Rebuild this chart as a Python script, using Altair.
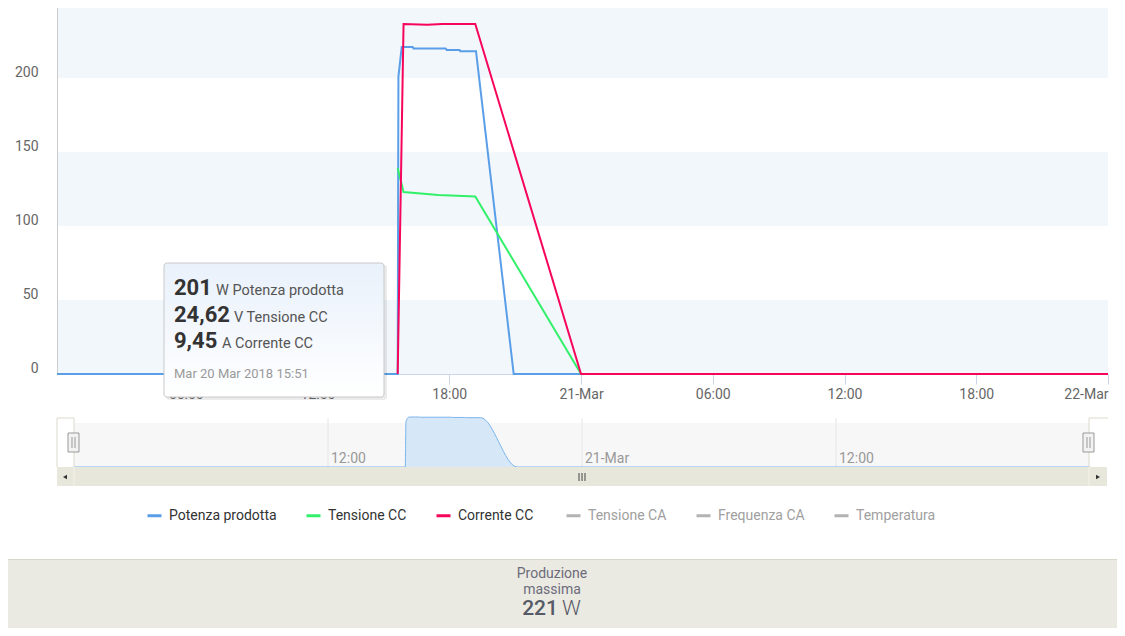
import altair as alt
import pandas as pd

# ------------------------------------------------------------------ data
series_names = ["Potenza prodotta", "Tensione CC", "Corrente CC"]
hidden_series = ["Tensione CA", "Frequenza CA", "Temperatura"]

potenza_t = ["2018-03-20T00:00", "2018-03-20T15:39", "2018-03-20T15:41", "2018-03-20T15:50",
             "2018-03-20T16:20", "2018-03-20T16:22", "2018-03-20T17:50", "2018-03-20T17:53",
             "2018-03-20T18:28", "2018-03-20T18:30", "2018-03-20T19:13", "2018-03-20T20:56",
             "2018-03-22T00:00"]
potenza_v = [0, 0, 201, 221, 221, 220, 220, 219, 219, 218, 218, 0, 0]

tensione_t = ["2018-03-20T15:39", "2018-03-20T15:55", "2018-03-20T17:30", "2018-03-20T19:11",
              "2018-03-21T00:00", "2018-03-22T00:00"]
tensione_v = [139, 123, 121, 120, 0, 0]

corrente_t = ["2018-03-20T15:39", "2018-03-20T15:55", "2018-03-20T17:00", "2018-03-20T17:40",
              "2018-03-20T19:11", "2018-03-21T00:00", "2018-03-22T00:00"]
corrente_v = [0, 236.5, 236, 236.5, 236.5, 0, 0]

band_lo = [0, 100, 200]
band_hi = [50, 150, 250]
y_ticks = [0, 50, 100, 150, 200]
x_tick_days = [20, 20, 20, 21, 21, 21, 21, 22]
x_tick_hours = [6, 12, 18, 0, 6, 12, 18, 0]

nav_tick_t = ["2018-03-20T12:00", "2018-03-21T00:00", "2018-03-21T12:00"]
nav_tick_labels = ["12:00", "21-Mar", "12:00"]

tooltip_values = ["201", "24,62", "9,45"]
tooltip_units = ["W Potenza prodotta", "V Tensione CC", "A Corrente CC"]
tooltip_date = "Mar 20 Mar 2018 15:51"

summary_lines = ["Produzione", "massima"]
summary_value = "221"
summary_unit = "W"

# ------------------------------------------------------------------ styles
series_colors = ["#5a9ee8", "#33f06a", "#f7055a"]
FONT = "Roboto"
W, H = 1051, 620
MAIN_BOTTOM = 366

one = pd.DataFrame({"k": [0]})

main_x = alt.Scale(domain=[alt.DateTime(year=2018, month=3, date=20, hours=0, minutes=8),
                           alt.DateTime(year=2018, month=3, date=22)],
                   range=[0, W], nice=False)
main_y = alt.Scale(domain=[0, 247.3], range=[MAIN_BOTTOM, 0], nice=False, zero=False)
nav_x = alt.Scale(domain=[alt.DateTime(year=2018, month=3, date=20),
                          alt.DateTime(year=2018, month=3, date=22)],
                  range=[17, 1033], nice=False)
nav_y = alt.Scale(domain=[0, 221], range=[459, 409], nice=False)

legend_common = dict(orient="none", legendY=499, direction="horizontal", title=None,
                     symbolType="stroke", symbolStrokeWidth=3, symbolSize=196, symbolOpacity=1,
                     labelFont=FONT, labelFontSize=14, labelOffset=6, columnPadding=23, padding=0)

color_enc = alt.Color(
    "s:N",
    scale=alt.Scale(domain=series_names, range=series_colors),
    legend=alt.Legend(legendX=89, labelColor="#333333", **legend_common),
)

def sdf(name, ts, vs):
    return pd.DataFrame({"t": ts, "v": vs, "s": name})

pot_df = sdf(series_names[0], potenza_t, potenza_v)
ten_df = sdf(series_names[1], tensione_t, tensione_v)
cor_df = sdf(series_names[2], corrente_t, corrente_v)

layers = []

# plot bands
bands = pd.DataFrame({"lo": band_lo, "hi": band_hi})
layers.append(alt.Chart(bands).mark_rect(color="#f2f7fb", clip=True).encode(
    x=alt.value(0), x2=alt.value(W),
    y=alt.Y("lo:Q", scale=main_y, axis=None), y2="hi:Q"))
# left border of the plot
layers.append(alt.Chart(one).mark_rule(color="#cccccc", strokeWidth=1).encode(
    x=alt.value(0.5), y=alt.value(0), y2=alt.value(MAIN_BOTTOM)))

# main lines
x_tick_values = [alt.DateTime(year=2018, month=3, date=d, hours=h)
                 for d, h in zip(x_tick_days, x_tick_hours)]
x_axis = alt.Axis(title=None, orient="bottom", offset=-(H - MAIN_BOTTOM),
                  values=x_tick_values,
                  labelExpr="hours(datum.value) == 0 ? timeFormat(datum.value, '%d-%b') : timeFormat(datum.value, '%H:%M')",
                  grid=False, tickSize=10, tickColor="#ccd6eb", domainColor="#ccd6eb",
                  labelColor="#666666", labelFontSize=14, labelFont=FONT, labelPadding=3,
                  labelFlush=True)
y_axis = alt.Axis(title=None, values=y_ticks, grid=False, ticks=False, domain=False,
                  labelColor="#666666", labelFontSize=14,
                  labelFont=FONT, labelPadding=19, labelOffset=-6)

layers.append(alt.Chart(pot_df).mark_line(strokeWidth=2, clip=True).encode(
    x=alt.X("t:T", scale=main_x, axis=x_axis),
    y=alt.Y("v:Q", scale=main_y, axis=y_axis),
    color=color_enc))
for d in (ten_df, cor_df):
    layers.append(alt.Chart(d).mark_line(strokeWidth=2, clip=True).encode(
        x=alt.X("t:T", scale=main_x, axis=None),
        y=alt.Y("v:Q", scale=main_y, axis=None),
        color=color_enc))

# hidden series (legend only, nothing drawn)
hid_df = pd.DataFrame({"t": ["2018-03-20T00:00"] * 3, "v": [None] * 3, "s": hidden_series})
layers.append(alt.Chart(hid_df).mark_line(strokeWidth=2, color="#b3b3b3").encode(
    x=alt.X("t:T", scale=main_x, axis=None),
    y=alt.Y("v:Q", scale=main_y, axis=None),
    strokeDash=alt.StrokeDash("s:N", scale=alt.Scale(domain=hidden_series, range=[[1, 0]] * 3),
                              legend=alt.Legend(legendX=508, labelColor="#a0a0a0",
                                                symbolStrokeColor="#b3b3b3", symbolDash=[1, 0],
                                                **legend_common))))

# ---------------- navigator
layers.append(alt.Chart(one).mark_rect(color="#f7f7f7").encode(
    x=alt.value(17), x2=alt.value(1032), y=alt.value(415), y2=alt.value(459)))
navt = pd.DataFrame({"t": nav_tick_t, "label": nav_tick_labels})
layers.append(alt.Chart(navt).mark_rule(color="#e6e6e6").encode(
    x=alt.X("t:T", scale=nav_x, axis=None), y=alt.value(410), y2=alt.value(459)))
layers.append(alt.Chart(pot_df).mark_area(interpolate="monotone", color="#d6e8f8", opacity=1).encode(
    x=alt.X("t:T", scale=nav_x, axis=None), y=alt.Y("v:Q", scale=nav_y, axis=None)))
layers.append(alt.Chart(pot_df).mark_line(interpolate="monotone", color="#7cb5ec", strokeWidth=1).encode(
    x=alt.X("t:T", scale=nav_x, axis=None), y=alt.Y("v:Q", scale=nav_y, axis=None)))
layers.append(alt.Chart(navt).mark_text(align="left", baseline="alphabetic", dx=3, fontSize=14,
                                        font=FONT, color="#999999").encode(
    x=alt.X("t:T", scale=nav_x, axis=None), y=alt.value(455), text="label:N"))

# navigator outline
outline = "#dcdbcb"
for (x1, x2, y1, y2) in [(0, 0, 410, 459), (0, 17, 410, 410), (17, 17, 410, 459),
                         (1032, 1032, 410, 459), (1032, 1051, 410, 410)]:
    layers.append(alt.Chart(one).mark_rule(color=outline, strokeWidth=1).encode(
        x=alt.value(x1), x2=alt.value(x2), y=alt.value(y1), y2=alt.value(y2)))

# scrollbar
layers.append(alt.Chart(one).mark_rect(color="#e8e7dc").encode(
    x=alt.value(0), x2=alt.value(1050), y=alt.value(459), y2=alt.value(478)))
for xv in (17, 1032):
    layers.append(alt.Chart(one).mark_rule(color="#f3f2ea", strokeWidth=1).encode(
        x=alt.value(xv), y=alt.value(459), y2=alt.value(478)))
layers.append(alt.Chart(one).mark_point(shape="triangle-left", filled=True, size=22,
                                         color="#333333", opacity=1).encode(
    x=alt.value(8), y=alt.value(469)))
layers.append(alt.Chart(one).mark_point(shape="triangle-right", filled=True, size=22,
                                         color="#333333", opacity=1).encode(
    x=alt.value(1041), y=alt.value(469)))
for xv in (522, 525, 528):
    layers.append(alt.Chart(one).mark_rule(color="#444444", strokeWidth=1).encode(
        x=alt.value(xv), y=alt.value(465), y2=alt.value(473)))

# handles
for hx in (11, 1026):
    layers.append(alt.Chart(one).mark_rect(fill="#f2f2f2", stroke="#999999", strokeWidth=1).encode(
        x=alt.value(hx), x2=alt.value(hx + 11), y=alt.value(425), y2=alt.value(444)))
    for dx in (4, 7):
        layers.append(alt.Chart(one).mark_rule(color="#999999", strokeWidth=1).encode(
            x=alt.value(hx + dx), y=alt.value(429), y2=alt.value(440)))

# ---------------- bottom summary panel
layers.append(alt.Chart(one).mark_rect(color="#ebeae2").encode(
    x=alt.value(-49), x2=alt.value(1060), y=alt.value(551), y2=alt.value(620)))
layers.append(alt.Chart(one).mark_rule(color="#d8d7ca").encode(
    x=alt.value(-49), x2=alt.value(1060), y=alt.value(551.5)))
for i, txt in enumerate(summary_lines):
    layers.append(alt.Chart(one).mark_text(text=txt, align="center", baseline="alphabetic",
                                           fontSize=14, font=FONT, color="#6b6b7a").encode(
        x=alt.value(495), y=alt.value(570 + 16 * i)))
layers.append(alt.Chart(one).mark_text(text=summary_value, align="right", baseline="alphabetic",
                                       fontSize=21, font=FONT, fontWeight=500, color="#555a66").encode(
    x=alt.value(501), y=alt.value(607)))
layers.append(alt.Chart(one).mark_text(text=summary_unit, align="left", baseline="alphabetic",
                                       fontSize=21, font=FONT, fontWeight=300, color="#555a66").encode(
    x=alt.value(505), y=alt.value(607)))

# ---------------- tooltip
layers.append(alt.Chart(one).mark_rect(color="#000000", opacity=0.08, cornerRadius=3).encode(
    x=alt.value(109), x2=alt.value(330), y=alt.value(257), y2=alt.value(392)))
layers.append(alt.Chart(one).mark_rect(
    fill=alt.Gradient(gradient="linear",
                      stops=[alt.GradientStop(color="#e9f1fb", offset=0),
                             alt.GradientStop(color="#ffffff", offset=1)],
                      x1=0, x2=0, y1=0, y2=1),
    stroke="#c9c9c9", strokeWidth=1, cornerRadius=3).encode(
    x=alt.value(107), x2=alt.value(327), y=alt.value(255), y2=alt.value(389)))
unit_x = [159, 177, 165]
for i in range(3):
    yb = 287 + 27 * i - (1 if i == 2 else 0)
    layers.append(alt.Chart(one).mark_text(text=tooltip_values[i], align="left", baseline="alphabetic",
                                           fontSize=22, font=FONT, fontWeight="bold", color="#333333").encode(
        x=alt.value(117), y=alt.value(yb)))
    layers.append(alt.Chart(one).mark_text(text=tooltip_units[i], align="left", baseline="alphabetic",
                                           fontSize=14.5, font=FONT, color="#555555").encode(
        x=alt.value(unit_x[i]), y=alt.value(yb)))
layers.append(alt.Chart(one).mark_text(text=tooltip_date, align="left", baseline="alphabetic",
                                       fontSize=13, font=FONT, color="#9a9a9a").encode(
    x=alt.value(117), y=alt.value(370)))

chart = alt.layer(*layers).resolve_scale(
    x="independent", y="independent"
).properties(
    width=W, height=H, autosize="none",
    padding={"left": 49, "top": 0, "right": 9, "bottom": 0},
).configure(background="white", font=FONT).configure_view(stroke=None)

chart.save("out.html", embed_options={"renderer": "svg", "actions": False})
